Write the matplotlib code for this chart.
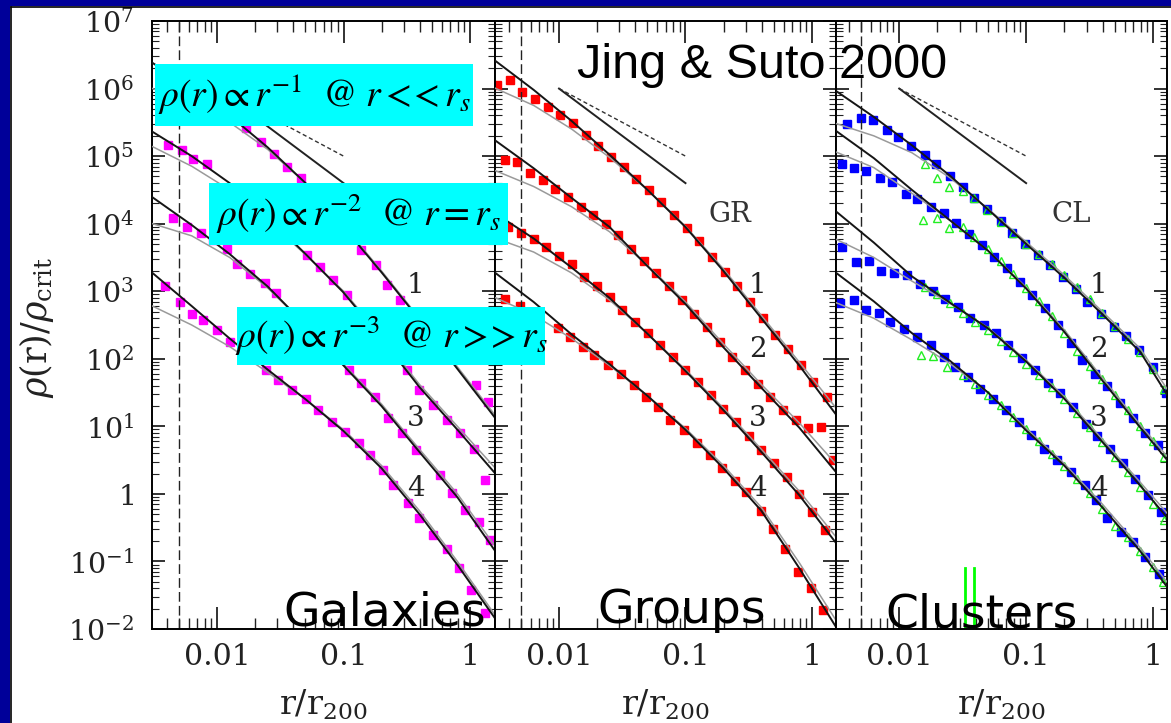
import numpy as np
import matplotlib
matplotlib.use("Agg")
import matplotlib.pyplot as plt
from matplotlib.patches import Rectangle
from matplotlib.lines import Line2D
from matplotlib.ticker import FixedLocator, FixedFormatter, LogLocator, NullFormatter

W, H = 1171, 723

# all values are log10(r/r200) and log10(rho/rho_crit)
fit_logr = [-2.51, -2.2, -1.9, -1.6, -1.3, -1.0, -0.7, -0.4, -0.1, 0.2]

# Galaxies (magenta)
gal_logr = [
    [-1.77, -1.65, -1.55, -1.45, -1.34, -0.86, -0.74, -0.66, -0.55, 0.05, 0.14],
    [-2.39, -2.28, -2.19, -2.08, -1.29, -1.19, -1.08, -0.97, -0.50, -0.40, -0.29,
     -0.18, -0.08, 0.03, 0.12],
    [-2.35, -2.24, -2.13, -2.03, -1.92, -1.84, -1.74, -1.62, -1.53, -0.96, -0.86,
     -0.75, -0.65, -0.54, -0.43, -0.24, -0.14, -0.04, 0.07, 0.16],
    [-2.41, -2.29, -2.20, -2.11, -2.00, -1.90, -1.61, -1.52, -1.41, -1.30, -1.20,
     -1.09, -0.99, -0.88, -0.79, -0.69, -0.61, -0.49, -0.40, -0.29, -0.18, -0.09,
     0.01, 0.12],
]
gal_logrho = [
    [5.41, 5.21, 5.03, 4.84, 4.67, 3.61, 3.39, 3.09, 2.87, 1.61, 1.36],
    [5.16, 5.09, 4.95, 4.88, 3.54, 3.36, 3.17, 2.94, 1.83, 1.54, 1.32, 1.09, 0.90,
     0.67, 0.20],
    [4.08, 3.95, 3.86, 3.76, 3.63, 3.41, 3.26, 3.12, 2.97, 1.83, 1.64, 1.44, 1.12,
     0.90, 0.65, 0.28, 0.01, -0.24, -0.41, -0.68],
    [3.07, 2.84, 2.67, 2.57, 2.43, 2.25, 1.83, 1.69, 1.54, 1.41, 1.24, 1.07, 0.92,
     0.75, 0.58, 0.35, 0.13, -0.14, -0.36, -0.61, -0.81, -1.10, -1.42, -1.77],
]
gal_fit = [
    [6.38, 6.00, 5.60, 5.13, 4.60, 3.95, 3.28, 2.58, 1.85, 1.12],
    [5.36, 5.00, 4.60, 4.10, 3.55, 2.98, 2.30, 1.58, 0.95, 0.30],
    [4.39, 3.98, 3.55, 3.07, 2.50, 1.90, 1.30, 0.62, -0.05, -0.85],
    [3.27, 2.78, 2.30, 1.84, 1.40, 0.93, 0.38, -0.30, -1.05, -1.85],
]
gal_alt = [
    [6.00, 5.78, 5.50, 5.10, 4.60, 3.97, 3.30, 2.60, 1.88, 1.16],
    [5.14, 4.85, 4.50, 4.05, 3.54, 3.00, 2.33, 1.62, 1.00, 0.38],
    [4.00, 3.82, 3.50, 3.05, 2.50, 1.92, 1.33, 0.66, 0.00, -0.78],
    [2.78, 2.50, 2.18, 1.80, 1.40, 0.95, 0.42, -0.25, -1.00, -1.80],
]

# Groups (red)
grp_logr = [
    [-2.49, -2.39, -2.29, -2.19, -2.09, -1.99, -1.89, -1.79, -1.69, -1.59, -1.49,
     -1.39, -1.29, -1.19, -1.09, -0.99, -0.89, -0.79, -0.69, -0.59, -0.49, -0.39,
     -0.29, -0.19, -0.09, 0.01, 0.12],
    [-2.43, -2.33, -2.23, -2.13, -2.03, -1.93, -1.83, -1.73, -1.63, -1.53, -1.43,
     -1.33, -1.23, -1.13, -1.03, -0.93, -0.83, -0.73, -0.63, -0.53, -0.43, -0.33,
     -0.23, -0.13, -0.03, 0.07, 0.17],
    [-2.40, -2.30, -2.20, -2.10, -2.00, -1.90, -1.80, -1.70, -1.60, -1.50, -1.40,
     -1.30, -1.20, -1.10, -1.00, -0.90, -0.80, -0.70, -0.60, -0.50, -0.40, -0.30,
     -0.20, -0.10, 0.00, 0.10],
    [-2.43, -2.31, -2.01, -1.91, -1.81, -1.72, -1.61, -1.51, -1.41, -1.31, -1.22,
     -1.12, -1.01, -0.91, -0.81, -0.71, -0.61, -0.52, -0.40, -0.31, -0.21, -0.11,
     -0.01, 0.09],
]
grp_logrho = [
    [6.05, 6.13, 5.95, 5.85, 5.72, 5.61, 5.49, 5.31, 5.15, 4.99, 4.84, 4.66, 4.50,
     4.32, 4.13, 3.94, 3.75, 3.51, 3.29, 3.07, 2.84, 2.60, 2.35, 2.15, 1.91, 1.66,
     1.44],
    [4.94, 4.92, 4.75, 4.64, 4.52, 4.40, 4.25, 4.13, 3.99, 3.83, 3.63, 3.44, 3.27,
     3.07, 2.87, 2.67, 2.47, 2.25, 2.03, 1.83, 1.63, 1.44, 1.24, 1.09, 0.97, 0.99,
     0.50],
    [3.95, 3.86, 3.77, 3.66, 3.52, 3.41, 3.21, 3.07, 2.92, 2.72, 2.55, 2.38, 2.20,
     2.03, 1.83, 1.66, 1.46, 1.26, 1.07, 0.85, 0.65, 0.45, 0.25, 0.00, -0.27,
     -0.54],
    [2.89, 2.78, 2.45, 2.32, 2.17, 2.06, 1.91, 1.77, 1.61, 1.44, 1.29, 1.10, 0.95,
     0.75, 0.58, 0.38, 0.19, 0.03, -0.26, -0.52, -0.81, -1.15, -1.40, -1.72],
]
grp_fit = [
    [6.42, 5.98, 5.52, 5.02, 4.50, 3.95, 3.30, 2.60, 1.90, 1.15],
    [5.24, 4.82, 4.38, 3.95, 3.37, 2.81, 2.17, 1.57, 0.98, 0.30],
    [4.16, 3.78, 3.35, 2.90, 2.37, 1.82, 1.24, 0.62, -0.02, -0.75],
    [3.28, 2.84, 2.36, 1.92, 1.45, 0.95, 0.38, -0.25, -1.10, -2.00],
]
grp_alt = [
    [6.01, 5.75, 5.40, 4.98, 4.50, 3.96, 3.33, 2.64, 1.95, 1.25],
    [4.79, 4.55, 4.25, 3.88, 3.38, 2.84, 2.22, 1.62, 1.05, 0.42],
    [3.79, 3.58, 3.27, 2.87, 2.37, 1.84, 1.27, 0.66, 0.04, -0.66],
    [2.91, 2.65, 2.30, 1.90, 1.45, 0.97, 0.42, -0.20, -1.02, -1.90],
]

# Clusters (blue squares, green triangles)
cl_logr = [
    [-2.41, -2.30, -2.21, -2.10, -2.01, -1.91, -1.80, -1.71, -1.60, -1.50, -1.41,
     -1.31, -1.20, -1.11, -1.01, -0.91, -0.81, -0.71, -0.61, -0.52, -0.41, -0.31,
     -0.21, -0.11, 0.00, 0.10],
    [-2.45, -2.36, -2.26, -2.15, -2.06, -1.95, -1.86, -1.75, -1.65, -1.55, -1.45,
     -1.35, -1.25, -1.15, -1.05, -0.95, -0.85, -0.75, -0.65, -0.56, -0.46, -0.36,
     -0.26, -0.16, -0.06, 0.04],
    [-2.45, -2.34, -2.24, -2.14, -2.04, -1.94, -1.84, -1.73, -1.64, -1.54, -1.44,
     -1.33, -1.24, -1.14, -1.03, -0.93, -0.83, -0.73, -0.63, -0.53, -0.44, -0.34,
     -0.24, -0.14, -0.04, 0.06],
    [-2.47, -2.36, -2.26, -2.16, -2.07, -1.96, -1.86, -1.75, -1.65, -1.56, -1.46,
     -1.36, -1.26, -1.16, -1.06, -0.96, -0.86, -0.76, -0.65, -0.54, -0.45, -0.36,
     -0.25, -0.16, -0.06, 0.05],
]
cl_logrho = [
    [5.48, 5.56, 5.54, 5.39, 5.29, 5.15, 5.01, 4.89, 4.71, 4.55, 4.38, 4.21, 4.04,
     3.86, 3.70, 3.54, 3.39, 3.21, 3.04, 2.84, 2.67, 2.47, 2.33, 2.13, 1.88, 1.49],
    [4.89, 4.82, 4.78, 4.67, 4.61, 4.44, 4.36, 4.24, 4.16, 4.01, 3.85, 3.68, 3.51,
     3.34, 3.14, 2.94, 2.75, 2.50, 2.23, 1.98, 1.78, 1.59, 1.34, 1.12, 0.90, 0.72],
    [3.66, 3.43, 3.45, 3.30, 3.27, 3.24, 3.11, 3.01, 2.89, 2.77, 2.60, 2.50, 2.38,
     2.20, 2.01, 1.83, 1.64, 1.49, 1.29, 1.04, 0.85, 0.67, 0.45, 0.22, -0.02,
     -0.27],
    [2.82, 2.87, 2.72, 2.68, 2.55, 2.44, 2.32, 2.20, 2.03, 1.88, 1.73, 1.56, 1.41,
     1.24, 1.07, 0.87, 0.67, 0.50, 0.33, 0.13, -0.09, -0.36, -0.56, -0.71, -0.93,
     -1.18],
]
cl2_logr = [
    [-1.80, -1.70, -1.61, -1.50, -1.41, -1.31, -1.20, -1.10, -1.00, -0.90, -0.80,
     -0.70, -0.60, -0.50, -0.40, -0.30, -0.20, -0.10, 0.00, 0.09],
    [-1.81, -1.70, -1.61, -1.50, -1.41, -1.30, -1.20, -1.10, -1.00, -0.90, -0.80,
     -0.70, -0.60, -0.50, -0.40, -0.30, -0.20, -0.10, 0.00, 0.09],
    [-1.80, -1.70, -1.60, -1.50, -1.40, -1.30, -1.20, -1.10, -1.00, -0.90, -0.80,
     -0.70, -0.60, -0.50, -0.40, -0.30, -0.20, -0.10, 0.00, 0.09],
    [-1.83, -1.73, -1.62, -1.50, -1.40, -1.30, -1.20, -1.10, -1.00, -0.90, -0.80,
     -0.70, -0.60, -0.50, -0.40, -0.30, -0.20, -0.10, 0.00, 0.08],
]
cl2_logrho = [
    [4.89, 4.67, 4.55, 4.49, 4.38, 4.20, 4.02, 3.86, 3.70, 3.55, 3.40, 3.24, 3.06,
     2.88, 2.68, 2.49, 2.30, 2.10, 1.85, 1.56],
    [4.05, 4.09, 3.93, 3.95, 3.80, 3.62, 3.44, 3.25, 3.05, 2.86, 2.64, 2.38, 2.12,
     1.90, 1.70, 1.47, 1.24, 1.00, 0.78, 0.55],
    [3.06, 2.96, 2.82, 2.68, 2.55, 2.42, 2.27, 2.10, 1.93, 1.76, 1.58, 1.40, 1.20,
     0.99, 0.77, 0.55, 0.33, 0.10, -0.15, -0.38],
    [2.05, 2.04, 1.88, 1.76, 1.62, 1.47, 1.31, 1.14, 0.96, 0.78, 0.59, 0.42, 0.22,
     0.01, -0.22, -0.47, -0.64, -0.84, -1.08, -1.30],
]
cl_fit = [
    [5.98, 5.58, 5.16, 4.71, 4.21, 3.70, 3.20, 2.66, 2.10, 1.20],
    [5.39, 4.97, 4.50, 4.05, 3.60, 3.04, 2.40, 1.68, 0.98, 0.30],
    [4.20, 3.72, 3.22, 2.83, 2.45, 1.96, 1.41, 0.77, 0.12, -0.55],
    [3.29, 2.85, 2.38, 1.97, 1.50, 0.94, 0.42, -0.20, -0.85, -1.60],
]
cl_alt = [
    [5.49, 5.30, 5.05, 4.68, 4.22, 3.73, 3.24, 2.70, 2.15, 1.30],
    [5.07, 4.83, 4.45, 4.05, 3.60, 3.06, 2.43, 1.72, 1.02, 0.36],
    [3.78, 3.50, 3.15, 2.82, 2.46, 1.98, 1.44, 0.81, 0.17, -0.48],
    [2.84, 2.60, 2.28, 1.93, 1.50, 0.97, 0.45, -0.15, -0.80, -1.52],
]

# power-law guide lines (slope -1 dashed, steeper solid)
ref_logr = [-2.0, -1.0]
ref_solid = [6.0, 4.6]
ref_dashed = [6.0, 5.0]
core_r = 0.005

# green marks at the bottom of the cluster panel
mark_logr = [-1.478, -1.407]
mark_top = [-1.10, -1.09]

xtick_vals = [0.01, 0.1, 1]
xtick_labels = ["0.01", "0.1", "1"]
ytick_vals = [1e-2, 1e-1, 1, 1e1, 1e2, 1e3, 1e4, 1e5, 1e6, 1e7]
ytick_labels = [r"$10^{-2}$", r"$10^{-1}$", r"$1$", r"$10^{1}$", r"$10^{2}$",
                r"$10^{3}$", r"$10^{4}$", r"$10^{5}$", r"$10^{6}$", r"$10^{7}$"]

curve_ids = ["1", "2", "3", "4"]
curve_label_logr = -0.43
curve_label_logrho = [3.09, 2.13, 1.12, 0.08]
# panel 1 label "2" sits under the third cyan box in the slide
curve_label_shown = [[True, False, True, True], [True] * 4, [True] * 4]
panel_tags = ["", "GR", "CL"]
panel_names = ["Galaxies", "Groups", "Clusters"]

plt.rcParams["mathtext.fontset"] = "dejavuserif"

fig = plt.figure(figsize=(W / 100, H / 100), dpi=100)
fig.patch.set_facecolor("white")


def fx(px):
    return px / W


def fy(py):
    return 1 - py / H


panel_px = [(152, 495), (495, 836), (836, 1167)]
xlim_log = [(-2.514, 0.197), (-2.506, 0.190), (-2.498, 0.11)]
top_px, bot_px = 21, 629

panels = [
    (gal_logr, gal_logrho, gal_fit, gal_alt, "#ff00ff"),
    (grp_logr, grp_logrho, grp_fit, grp_alt, "#ff0000"),
    (cl_logr, cl_logrho, cl_fit, cl_alt, "#0000ff"),
]

fr = 10 ** np.array(fit_logr)
for k, (logr, logrho, fit, alt, color) in enumerate(panels):
    x0, x1 = panel_px[k]
    ax = fig.add_axes([fx(x0), fy(bot_px), fx(x1) - fx(x0), fy(top_px) - fy(bot_px)])
    ax.set_xscale("log")
    ax.set_yscale("log")

    for i in range(4):
        ax.plot(fr, 10 ** np.array(alt[i]), color="#9a9a9a", lw=1.1, zorder=3)
        ax.plot(fr, 10 ** np.array(fit[i]), color="#151515", lw=1.4, zorder=4)
        ax.plot(10 ** np.array(logr[i]), 10 ** np.array(logrho[i]), ls="none",
                marker="s", ms=5.2, color=color, mec=color, zorder=2)
        if k == 2:
            ax.plot(10 ** np.array(cl2_logr[i]), 10 ** np.array(cl2_logrho[i]),
                    ls="none", marker="^", ms=6, mfc="none", mec="#22ee22",
                    mew=1.0, zorder=2.5)
        if curve_label_shown[k][i]:
            ax.text(10 ** curve_label_logr, 10 ** curve_label_logrho[i], curve_ids[i],
                    fontsize=20, family="DejaVu Serif", color="#222222",
                    ha="center", va="center", zorder=5)

    rr = 10 ** np.array(ref_logr)
    ax.plot(rr, 10 ** np.array(ref_solid), color="#222222", lw=1.4)
    ax.plot(rr, 10 ** np.array(ref_dashed), color="#333333", lw=1.0, ls=(0, (3, 2)))
    ax.axvline(core_r, color="#222222", lw=1.0, ls=(0, (7, 3)))

    if k == 2:
        for lr, top in zip(mark_logr, mark_top):
            ax.plot([10 ** lr, 10 ** lr], [1e-2, 10 ** top], color="#00ff00", lw=2)

    if panel_tags[k]:
        ax.text(10 ** -0.645, 10 ** 4.13, panel_tags[k], fontsize=20,
                family="DejaVu Serif", color="#333333", ha="center", va="center")

    ax.set_xlim(10 ** xlim_log[k][0], 10 ** xlim_log[k][1])
    ax.set_ylim(1e-2, 1e7)

    ax.xaxis.set_major_locator(FixedLocator(xtick_vals))
    ax.xaxis.set_major_formatter(FixedFormatter(xtick_labels))
    ax.xaxis.set_minor_locator(LogLocator(base=10, subs=np.arange(2, 10), numticks=50))
    ax.xaxis.set_minor_formatter(NullFormatter())
    ax.yaxis.set_major_locator(FixedLocator(ytick_vals))
    if k == 0:
        ax.yaxis.set_major_formatter(FixedFormatter(ytick_labels))
    else:
        ax.yaxis.set_major_formatter(NullFormatter())
    ax.yaxis.set_minor_locator(LogLocator(base=10, subs=np.arange(2, 10), numticks=50))
    ax.yaxis.set_minor_formatter(NullFormatter())

    ax.tick_params(which="both", direction="in", top=True, right=True,
                   labelleft=(k == 0), colors="#222222")
    ax.tick_params(axis="x", which="major", length=16, width=1.3, pad=10,
                   labelsize=21.5, labelfontfamily="DejaVu Serif")
    ax.tick_params(axis="x", which="minor", length=8, width=1.0)
    ax.tick_params(axis="y", which="major", length=9.5, width=1.3, pad=13,
                   labelsize=20.5)
    ax.tick_params(axis="y", which="minor", length=5, width=0.8)
    for sp in ax.spines.values():
        sp.set_linewidth(1.4)

    fig.text(fx((x0 + x1) / 2), fy(705), r"$\mathrm{r/r_{200}}$", fontsize=24,
             ha="center", va="center", color="#222222")

fig.text(fx(36), fy(327), r"$\rho(\mathrm{r})/\rho_{\mathrm{crit}}$", fontsize=25,
         rotation=90, ha="center", va="center", color="#222222")

# cyan annotation boxes
box_px = [(155, 64, 473, 126), (209, 183, 508, 245), (237, 307, 545, 365)]
box_text = [
    r"$\rho(r) \propto r^{-1}\ \ \mathrm{@}\ r <\!\!< r_s$",
    r"$\rho(r) \propto r^{-2}\ \ \mathrm{@}\ r = r_s$",
    r"$\rho(r) \propto r^{-3}\ \ \mathrm{@}\ r >\!\!> r_s$",
]
for (bx0, by0, bx1, by1), txt in zip(box_px, box_text):
    fig.add_artist(Rectangle((fx(bx0), fy(by1)), fx(bx1) - fx(bx0), fy(by0) - fy(by1),
                             transform=fig.transFigure, facecolor="#00ffff",
                             edgecolor="none", zorder=5))
    fig.text(fx((bx0 + bx1) / 2), fy((by0 + by1) / 2), txt, fontsize=27,
             math_fontfamily="stix", ha="center", va="center", zorder=6)

fig.text(fx(577), fy(78), "Jing & Suto 2000", fontsize=35, family="Liberation Sans",
         ha="left", va="baseline", zorder=6)

name_pos = [(283, 625), (597, 623), (885, 627)]
for (nx, ny), name in zip(name_pos, panel_names):
    fig.text(fx(nx), fy(ny), name, fontsize=34, family="DejaVu Sans",
             ha="left", va="baseline", zorder=6)

# slide frame
blue = "#000099"
fig.add_artist(Rectangle((0, 0), fx(10), 1, transform=fig.transFigure,
                         facecolor=blue, edgecolor="none", zorder=20))
fig.add_artist(Rectangle((0, fy(6)), 1, 1 - fy(6), transform=fig.transFigure,
                         facecolor=blue, edgecolor="none", zorder=20))
fig.add_artist(Line2D([fx(10.5), fx(10.5)], [0, fy(6.5)], transform=fig.transFigure,
                      color="black", lw=1.2, zorder=21))
fig.add_artist(Line2D([fx(10.5), 1], [fy(6.5), fy(6.5)], transform=fig.transFigure,
                      color="black", lw=1.2, zorder=21))

fig.savefig("out.png", dpi=100, facecolor="white")
